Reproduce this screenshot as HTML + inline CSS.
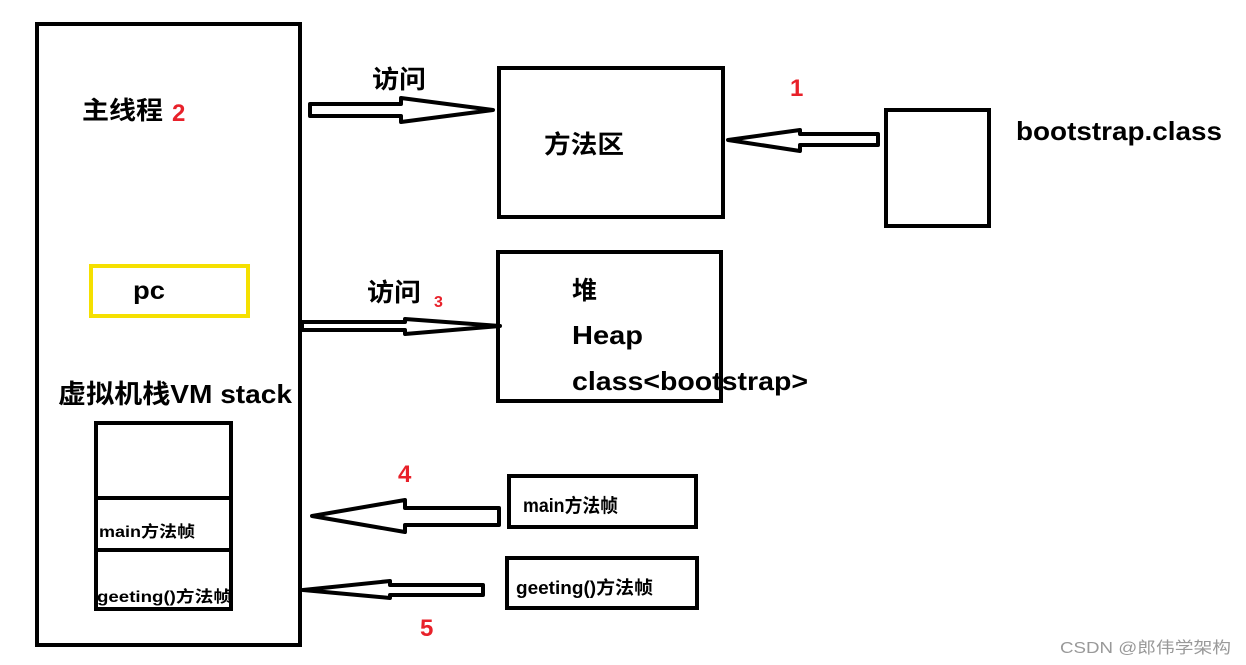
<!DOCTYPE html>
<html><head><meta charset="utf-8">
<style>
html,body{margin:0;padding:0;background:#fff;}
svg{display:block;}
text{font-family:"Liberation Sans","Noto Sans CJK SC",sans-serif;font-weight:bold;}
</style></head>
<body>
<svg width="1246" height="665" viewBox="0 0 1246 665" xmlns="http://www.w3.org/2000/svg">
<g fill="none" stroke="#000" stroke-width="4">
  <rect x="37" y="24" width="263" height="621"/>
  <rect x="499" y="68" width="224" height="149"/>
  <rect x="886" y="110" width="103" height="116"/>
  <rect x="498" y="252" width="223" height="149"/>
  <rect x="509" y="476" width="187" height="51"/>
  <rect x="507" y="558" width="190" height="50"/>
  <rect x="96" y="423" width="135" height="186"/>
  <line x1="96" y1="498" x2="231" y2="498"/>
  <line x1="96" y1="550" x2="231" y2="550"/>
</g>
<rect x="91" y="266" width="157" height="50" fill="none" stroke="#f5e000" stroke-width="4"/>
<g fill="#fff" stroke="#000" stroke-width="4" stroke-linejoin="round">
  <polygon points="310,104 401,104 401,98 493,110 401,122 401,116 310,116"/>
  <polygon points="878,134 800,134 800,130 728,140 800,151 800,145 878,145"/>
  <polygon points="302,322 405,322 405,319 500,326 405,334 405,330 302,330"/>
  <polygon points="499,508 405,508 405,500 312,516 405,532 405,525 499,525"/>
  <polygon points="483,585 390,585 390,581 303,590 390,598 390,595 483,595"/>
</g>
<g fill="#000" lengthAdjust="spacingAndGlyphs">
  <text x="82" y="119" font-size="25" textLength="81" lengthAdjust="spacingAndGlyphs">主线程</text>
  <text x="372" y="88" font-size="25" textLength="54" lengthAdjust="spacingAndGlyphs">访问</text>
  <text x="367" y="301" font-size="25" textLength="54" lengthAdjust="spacingAndGlyphs">访问</text>
  <text x="544" y="153" font-size="25" textLength="80" lengthAdjust="spacingAndGlyphs">方法区</text>
  <text x="1016" y="140" font-size="26" textLength="206" lengthAdjust="spacingAndGlyphs">bootstrap.class</text>
  <text x="133" y="299" font-size="25" textLength="32" lengthAdjust="spacingAndGlyphs">pc</text>
  <text x="572" y="299" font-size="25">堆</text>
  <text x="572" y="344" font-size="26" textLength="71" lengthAdjust="spacingAndGlyphs">Heap</text>
  <text x="572" y="390" font-size="26" textLength="236" lengthAdjust="spacingAndGlyphs">class&lt;bootstrap&gt;</text>
  <text x="58" y="403" font-size="26" textLength="234" lengthAdjust="spacingAndGlyphs">虚拟机栈VM stack</text>
  <text x="99" y="537" font-size="16" textLength="96" lengthAdjust="spacingAndGlyphs">main方法帧</text>
  <text x="97" y="602" font-size="16" textLength="135" lengthAdjust="spacingAndGlyphs">geeting()方法帧</text>
  <text x="523" y="512" font-size="19" textLength="95" lengthAdjust="spacingAndGlyphs">main方法帧</text>
  <text x="516" y="594" font-size="18" textLength="137" lengthAdjust="spacingAndGlyphs">geeting()方法帧</text>
</g>
<g fill="#e8212a">
  <text x="172" y="121" font-size="24">2</text>
  <text x="790" y="96" font-size="24">1</text>
  <text x="434" y="307" font-size="16">3</text>
  <text x="398" y="482" font-size="24">4</text>
  <text x="420" y="636" font-size="24">5</text>
</g>
<text x="1060" y="653" font-size="16" fill="#999" style="font-weight:normal" textLength="171" lengthAdjust="spacingAndGlyphs">CSDN @郎伟学架构</text>
</svg>
</body></html>
